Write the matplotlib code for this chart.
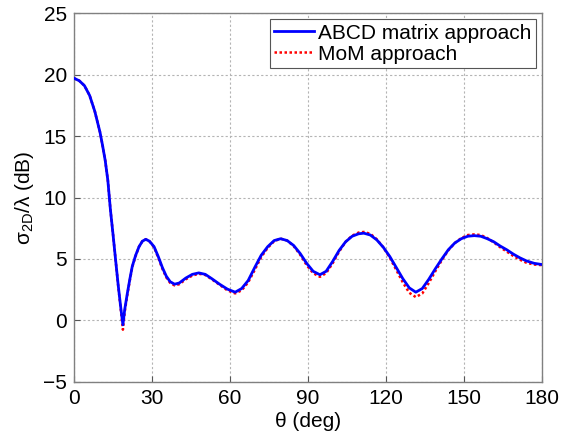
import matplotlib
matplotlib.use("Agg")
import matplotlib.pyplot as plt

plt.rcParams['font.family'] = ['Liberation Sans', 'DejaVu Sans']
plt.rcParams['mathtext.fontset'] = 'custom'
plt.rcParams['mathtext.rm'] = 'Liberation Sans'
plt.rcParams['mathtext.it'] = 'Liberation Sans'

theta = [0, 2, 4, 6, 8, 10, 11, 12, 13, 14, 15, 16, 17, 18, 18.8, 19.5, 20.5, 21.5, 22.4, 23.7,
         25, 26.3, 27.6, 29, 30.8, 32.4, 34, 35.5, 37, 38.7, 40.5, 43, 45.5, 48, 50.5, 53, 56,
         59, 62, 64.5, 67, 69.5, 72, 74.5, 77, 79.5, 82, 84.5, 87, 89.5, 92, 94.6, 97, 99.5,
         102, 104.5, 107, 109.5, 111.5, 114, 116.5, 119, 121.5, 124, 126.5, 129, 131.5, 134,
         136.5, 139, 141.5, 144, 146.5, 149, 151.5, 154, 156.5, 159, 161.5, 164, 166.5, 169,
         171.5, 174, 177, 180]

abcd = [19.7, 19.5, 19.1, 18.3, 17.0, 15.3, 14.2, 13.0, 11.4, 9.0, 7.0, 4.9, 2.85, 1.0, -0.35,
        0.9, 2.2, 3.4, 4.4, 5.3, 6.0, 6.45, 6.6, 6.45, 6.0, 5.2, 4.3, 3.6, 3.15, 2.95, 3.05,
        3.45, 3.75, 3.87, 3.75, 3.4, 2.95, 2.55, 2.3, 2.6, 3.25, 4.3, 5.3, 6.0, 6.5, 6.65, 6.5,
        6.1, 5.45, 4.65, 4.0, 3.72, 4.0, 4.8, 5.7, 6.4, 6.85, 7.05, 7.1, 6.95, 6.55, 5.95, 5.2,
        4.3, 3.4, 2.65, 2.3, 2.6, 3.35, 4.2, 5.0, 5.75, 6.3, 6.65, 6.85, 6.9, 6.85, 6.65, 6.4,
        6.05, 5.75, 5.4, 5.1, 4.85, 4.65, 4.55]

mom = [19.7, 19.5, 19.1, 18.3, 17.0, 15.3, 14.2, 13.0, 11.4, 9.0, 7.0, 4.9, 2.8, 0.85, -0.75,
       0.7, 2.1, 3.3, 4.35, 5.25, 6.0, 6.45, 6.6, 6.45, 5.95, 5.1, 4.2, 3.5, 3.05, 2.85, 2.95,
       3.35, 3.65, 3.8, 3.7, 3.35, 2.9, 2.45, 2.2, 2.45, 3.1, 4.1, 5.15, 5.9, 6.45, 6.65, 6.5,
       6.05, 5.35, 4.5, 3.85, 3.55, 3.85, 4.65, 5.6, 6.4, 6.9, 7.15, 7.2, 7.05, 6.6, 5.95, 5.1,
       4.1, 3.1, 2.25, 1.9, 2.2, 3.05, 4.0, 4.9, 5.7, 6.3, 6.7, 6.95, 7.0, 6.95, 6.7, 6.35,
       5.95, 5.6, 5.25, 4.95, 4.7, 4.55, 4.5]

xticks = [0, 30, 60, 90, 120, 150, 180]
yticks = [-5, 0, 5, 10, 15, 20, 25]

fig = plt.figure(figsize=(5.74, 4.37), dpi=100)
ax = fig.add_axes([0.129, 0.126, 0.815, 0.844])

ax.plot(theta, abcd, color='#0000ff', lw=2.0, label='ABCD matrix approach', zorder=3)
ax.plot(theta, mom, color='#ff0000', lw=1.8, ls=(0, (1, 1)), label='MoM approach', zorder=2)

ax.set_xlim(0, 180)
ax.set_ylim(-5, 25)
ax.set_xticks(xticks)
ax.set_yticks(yticks)
ax.grid(True, color='#b4b4b4', ls=(0, (2, 2)), lw=0.8)
ax.tick_params(direction='in', labelsize=15, length=4, color='#555555', pad=5)
for s in ax.spines.values():
    s.set_color('#808080')
    s.set_linewidth(1.0)

ax.set_xlabel('θ (deg)', fontsize=15, labelpad=3)
ax.set_ylabel(r'$\mathrm{\sigma}_{\mathrm{2D}}/\mathrm{\lambda}$ (dB)', fontsize=15, labelpad=5)

leg = ax.legend(loc='upper right', fontsize=15, fancybox=False, framealpha=1,
                edgecolor='#555555', borderpad=0.2, labelspacing=0.1, handlelength=1.9,
                handletextpad=0.2, borderaxespad=0.3)
leg.get_frame().set_linewidth(0.8)

fig.savefig('out.png', dpi=100)
